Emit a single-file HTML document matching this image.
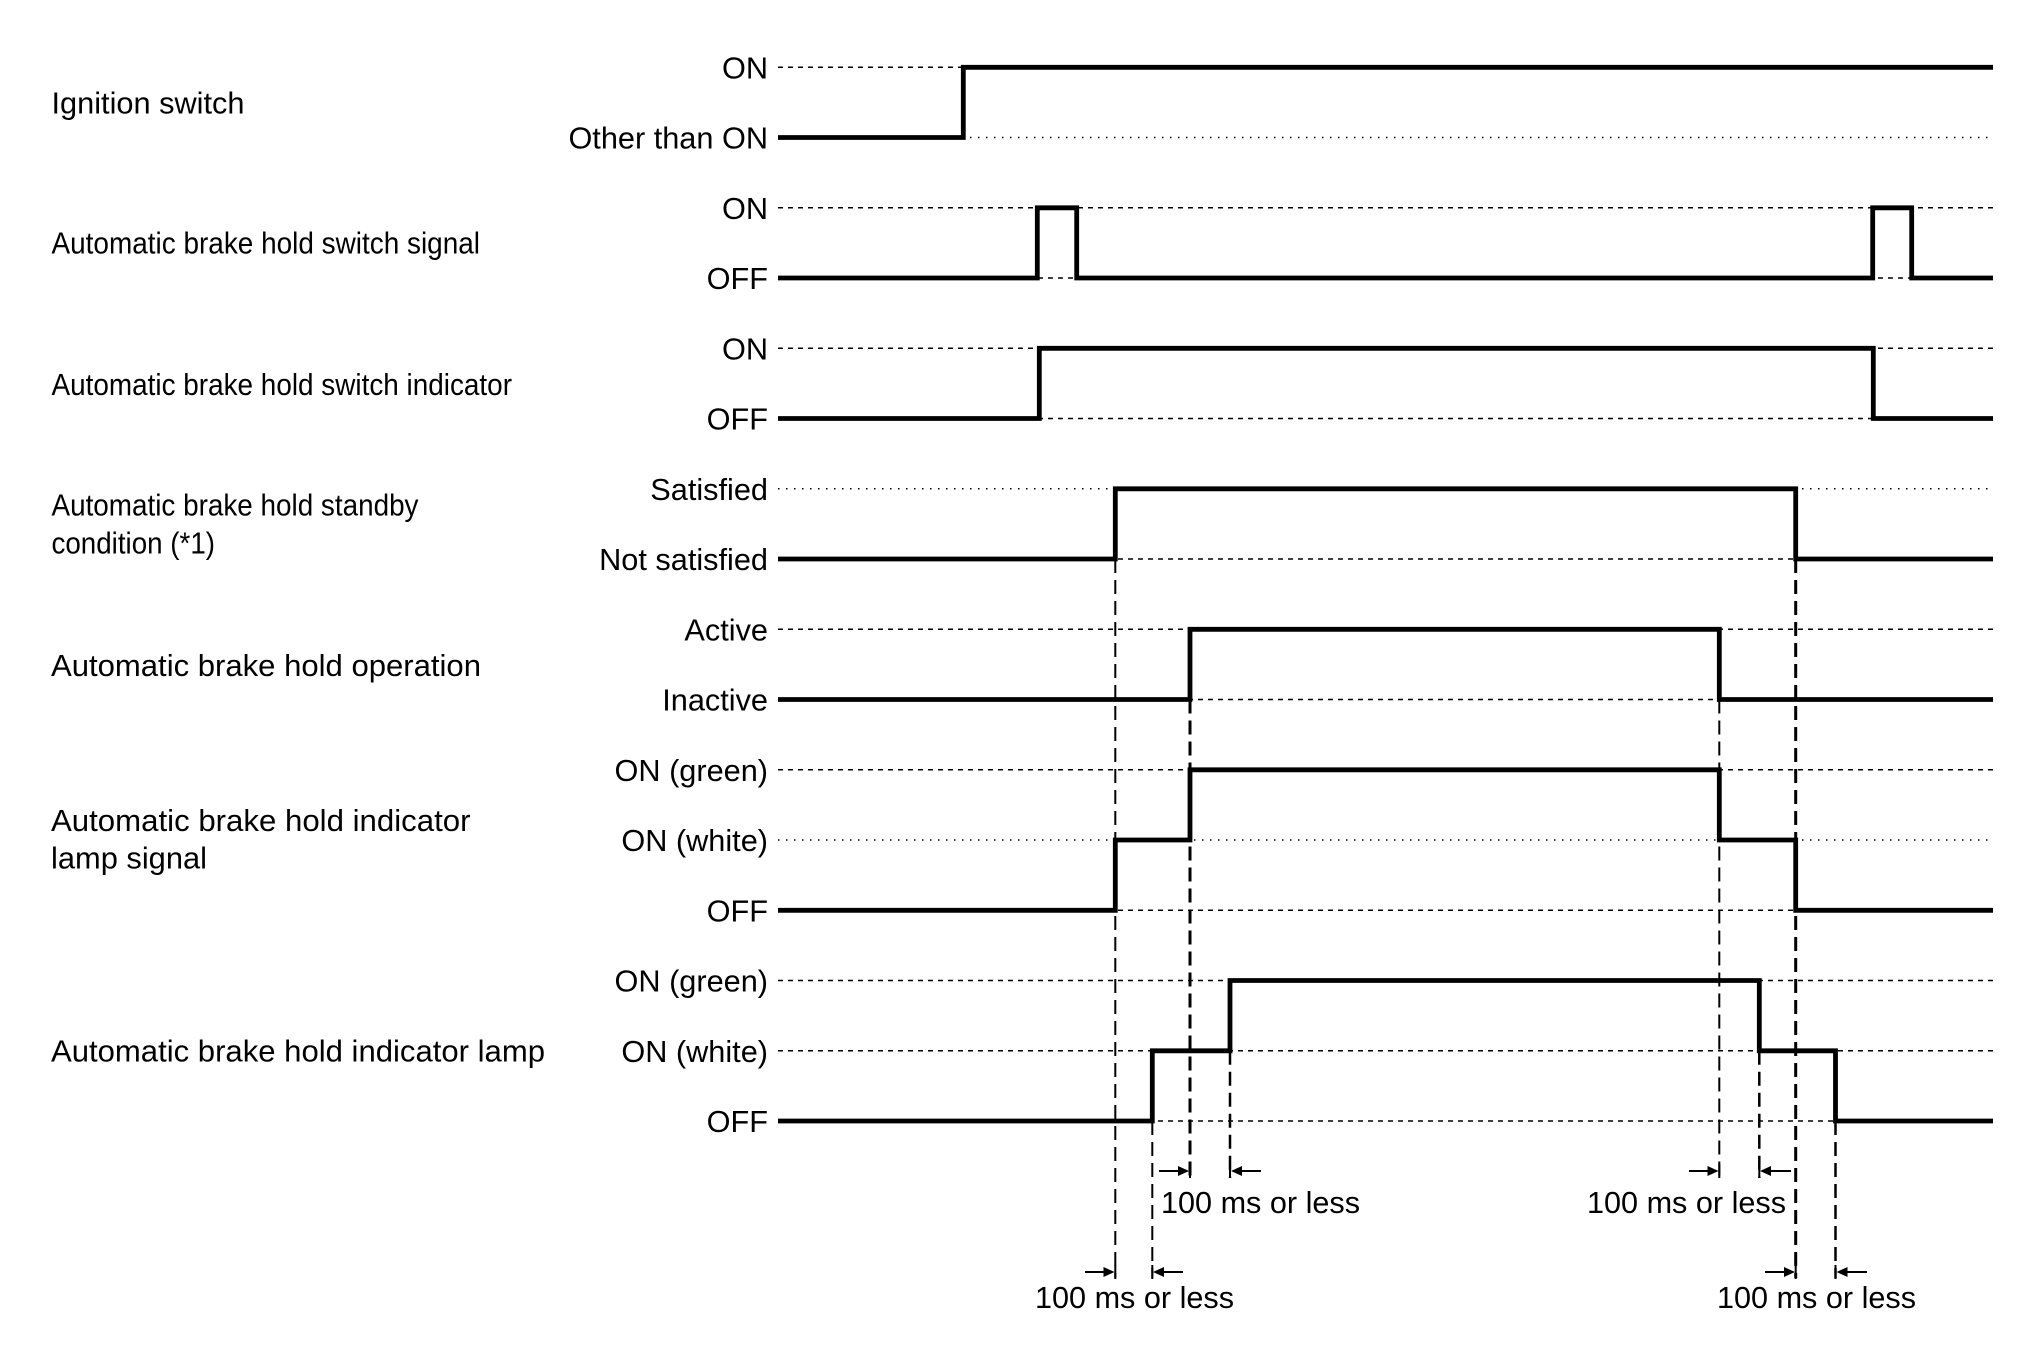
<!DOCTYPE html>
<html>
<head>
<meta charset="utf-8">
<style>
  html,body{margin:0;padding:0;background:#fff;}
  svg{display:block;}
  text{font-family:"Liberation Sans", Arial, sans-serif;fill:#000;}
</style>
</head>
<body>
<svg width="2020" height="1371" viewBox="0 0 2020 1371" xmlns="http://www.w3.org/2000/svg">
  <rect width="2020" height="1371" fill="#fff"/>

  <!-- Guide lines: dashed -->
  <g stroke="#000" stroke-width="1.5" stroke-dasharray="5 5" fill="none">
    <line x1="778" y1="67.3" x2="1993" y2="67.3"/>
    <line x1="778" y1="207.8" x2="1993" y2="207.8"/>
    <line x1="778" y1="278" x2="1993" y2="278"/>
    <line x1="778" y1="348.3" x2="1993" y2="348.3"/>
    <line x1="778" y1="418.5" x2="1993" y2="418.5"/>
    <line x1="778" y1="559" x2="1993" y2="559"/>
    <line x1="778" y1="629.3" x2="1993" y2="629.3"/>
    <line x1="778" y1="699.5" x2="1993" y2="699.5"/>
    <line x1="778" y1="769.8" x2="1993" y2="769.8"/>
    <line x1="778" y1="910.3" x2="1993" y2="910.3"/>
    <line x1="778" y1="980.5" x2="1993" y2="980.5"/>
    <line x1="778" y1="1050.8" x2="1993" y2="1050.8"/>
    <line x1="778" y1="1121" x2="1993" y2="1121"/>
  </g>
  <!-- Guide lines: dotted -->
  <g stroke="#000" stroke-width="1.5" stroke-dasharray="1.5 6.5" fill="none">
    <line x1="778" y1="137.5" x2="1993" y2="137.5"/>
    <line x1="778" y1="488.8" x2="1993" y2="488.8"/>
    <line x1="778" y1="840" x2="1993" y2="840"/>
  </g>

  <!-- Vertical dashed timing lines -->
  <g stroke="#000" fill="none" stroke-dasharray="14 7">
    <line x1="1115.3" y1="559" x2="1115.3" y2="1278" stroke-width="2"/>
    <line x1="1152.3" y1="1121" x2="1152.3" y2="1278" stroke-width="2"/>
    <line x1="1190" y1="699.5" x2="1190" y2="1178" stroke-width="3"/>
    <line x1="1230" y1="1050.8" x2="1230" y2="1178" stroke-width="2.5"/>
    <line x1="1719.3" y1="699.5" x2="1719.3" y2="1178" stroke-width="2"/>
    <line x1="1759.3" y1="1050.8" x2="1759.3" y2="1178" stroke-width="2.5"/>
    <line x1="1795.7" y1="559" x2="1795.7" y2="1278" stroke-width="3"/>
    <line x1="1835.5" y1="1121" x2="1835.5" y2="1278" stroke-width="2.5"/>
  </g>

  <!-- Signals -->
  <g stroke="#000" stroke-width="4.8" fill="none" stroke-linejoin="miter" stroke-linecap="butt">
    <polyline points="778,137.5 963.3,137.5 963.3,67.3 1993,67.3"/>
    <polyline points="778,278 1037.3,278 1037.3,207.8 1076.7,207.8 1076.7,278 1872.7,278 1872.7,207.8 1911.7,207.8 1911.7,278 1993,278"/>
    <polyline points="778,418.5 1039.3,418.5 1039.3,348.3 1873.3,348.3 1873.3,418.5 1993,418.5"/>
    <polyline points="778,559 1115.3,559 1115.3,488.8 1795.7,488.8 1795.7,559 1993,559"/>
    <polyline points="778,699.5 1190,699.5 1190,629.3 1719.3,629.3 1719.3,699.5 1993,699.5"/>
    <polyline points="778,910.3 1115.3,910.3 1115.3,840 1190,840 1190,769.8 1719.3,769.8 1719.3,840 1795.7,840 1795.7,910.3 1993,910.3"/>
    <polyline points="778,1121 1152.3,1121 1152.3,1050.8 1230,1050.8 1230,980.5 1759.3,980.5 1759.3,1050.8 1835.5,1050.8 1835.5,1121 1993,1121"/>
  </g>

  <!-- Arrows -->
  <g stroke="#000" stroke-width="2" fill="#000">
    <!-- top left -->
    <line x1="1159" y1="1171" x2="1180" y2="1171"/>
    <polygon points="1189,1171 1178,1166 1178,1176" stroke="none"/>
    <line x1="1190" y1="1164" x2="1190" y2="1178"/>
    <line x1="1240" y1="1171" x2="1261" y2="1171"/>
    <polygon points="1231,1171 1242,1166 1242,1176" stroke="none"/>
    <line x1="1230" y1="1164" x2="1230" y2="1178"/>
    <!-- top right -->
    <line x1="1689" y1="1171" x2="1710" y2="1171"/>
    <polygon points="1718.5,1171 1707.5,1166 1707.5,1176" stroke="none"/>
    <line x1="1719.3" y1="1164" x2="1719.3" y2="1178"/>
    <line x1="1770" y1="1171" x2="1791" y2="1171"/>
    <polygon points="1760,1171 1771,1166 1771,1176" stroke="none"/>
    <line x1="1759.3" y1="1164" x2="1759.3" y2="1178"/>
    <!-- bottom left -->
    <line x1="1085" y1="1272" x2="1106" y2="1272"/>
    <polygon points="1114.5,1272 1103.5,1267 1103.5,1277" stroke="none"/>
    <line x1="1115.3" y1="1265" x2="1115.3" y2="1279"/>
    <line x1="1162" y1="1272" x2="1183" y2="1272"/>
    <polygon points="1153,1272 1164,1267 1164,1277" stroke="none"/>
    <line x1="1152.3" y1="1265" x2="1152.3" y2="1279"/>
    <!-- bottom right -->
    <line x1="1765" y1="1272" x2="1786" y2="1272"/>
    <polygon points="1795,1272 1784,1267 1784,1277" stroke="none"/>
    <line x1="1795.7" y1="1265" x2="1795.7" y2="1279"/>
    <line x1="1846" y1="1272" x2="1867" y2="1272"/>
    <polygon points="1836.5,1272 1847.5,1267 1847.5,1277" stroke="none"/>
    <line x1="1835.5" y1="1265" x2="1835.5" y2="1279"/>
  </g>

  <!-- Timing annotations -->
  <g font-size="30.6">
    <text x="1161" y="1213" textLength="199" lengthAdjust="spacingAndGlyphs">100 ms or less</text>
    <text x="1587" y="1213" textLength="199" lengthAdjust="spacingAndGlyphs">100 ms or less</text>
    <text x="1035" y="1308" textLength="199" lengthAdjust="spacingAndGlyphs">100 ms or less</text>
    <text x="1717" y="1308" textLength="199" lengthAdjust="spacingAndGlyphs">100 ms or less</text>
  </g>

  <!-- State labels -->
  <g font-size="30.7" text-anchor="end">
    <text x="768" y="78.3">ON</text>
    <text x="768" y="148.5">Other than ON</text>
    <text x="768" y="218.8">ON</text>
    <text x="768" y="289">OFF</text>
    <text x="768" y="359.3">ON</text>
    <text x="768" y="429.5">OFF</text>
    <text x="768" y="499.8">Satisfied</text>
    <text x="768" y="570">Not satisfied</text>
    <text x="768" y="640.3">Active</text>
    <text x="768" y="710.5">Inactive</text>
    <text x="768" y="780.8">ON (green)</text>
    <text x="768" y="851">ON (white)</text>
    <text x="768" y="921.3">OFF</text>
    <text x="768" y="991.5">ON (green)</text>
    <text x="768" y="1061.8">ON (white)</text>
    <text x="768" y="1132">OFF</text>
  </g>

  <!-- Row labels -->
  <g font-size="30.5">
    <text x="51.5" y="113.4" textLength="193" lengthAdjust="spacingAndGlyphs">Ignition switch</text>
    <text x="51.5" y="253.6" textLength="428.5" lengthAdjust="spacingAndGlyphs">Automatic brake hold switch signal</text>
    <text x="51.5" y="394.9" textLength="460.5" lengthAdjust="spacingAndGlyphs">Automatic brake hold switch indicator</text>
    <text x="51.5" y="515.5" textLength="367" lengthAdjust="spacingAndGlyphs">Automatic brake hold standby</text>
    <text x="51.5" y="553.4" textLength="163.5" lengthAdjust="spacingAndGlyphs">condition (*1)</text>
    <text x="51" y="676" textLength="430" lengthAdjust="spacingAndGlyphs">Automatic brake hold operation</text>
    <text x="51" y="831" textLength="419.5" lengthAdjust="spacingAndGlyphs">Automatic brake hold indicator</text>
    <text x="51" y="868.3" textLength="156" lengthAdjust="spacingAndGlyphs">lamp signal</text>
    <text x="51" y="1061.7" textLength="494" lengthAdjust="spacingAndGlyphs">Automatic brake hold indicator lamp</text>
  </g>
</svg>
</body>
</html>
